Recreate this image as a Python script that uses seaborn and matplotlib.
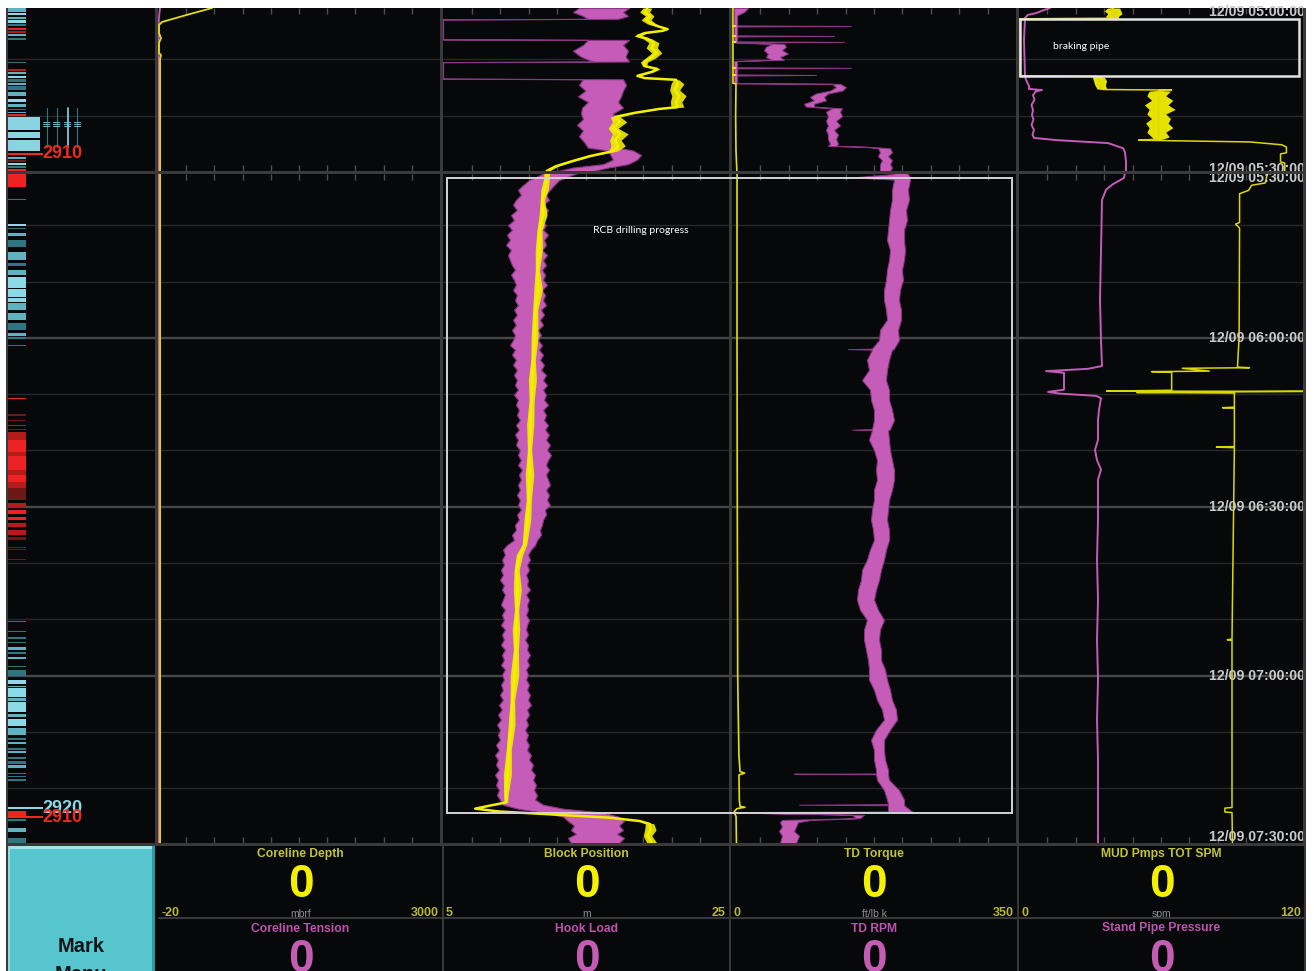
import datetime as dt
import numpy as np
import matplotlib
matplotlib.use("Agg")
import matplotlib.pyplot as plt
import matplotlib.transforms as mtransforms
from matplotlib.patches import Rectangle
from matplotlib.ticker import MultipleLocator
import seaborn as sns

# ------------------------------------------------------------------
# Rig-floor drilling log, 12/09 05:00 - 07:30
# time values are minutes after 05:00
# ------------------------------------------------------------------
BASE_TIME = dt.datetime(2017, 12, 9, 5, 0, 0)
LABEL_MINUTES = [0, 30, 60, 90, 120, 150]

# gauge panel
top_titles = ["Coreline Depth", "Block Position", "TD Torque", "MUD Pmps TOT SPM"]
bottom_titles = ["Coreline Tension", "Hook Load", "TD RPM", "Stand Pipe Pressure"]
range_min = [-20, 5, 0, 0]
range_max = [3000, 25, 350, 120]
units = ["mbrf", "m", "ft/lb k", "spm"]
top_values = [0, 0, 0, 0]
bottom_values = [0, 0, 0, 0]
# full-scale of the second (magenta) curve in each track
mag_max = [2820, 572, 142, 2840]

# Coreline depth (mbrf) and coreline tension (lb)
cd_t = [1.0, 2.2, 3.45, 4.0, 5.4, 6.3, 7.1, 8.9, 9.25, 10.0, 149.7]
cd_m = [558, 291, 23, -9, -9, 12, -9, -9, 12, 2, 2]
ct_t = [1.0, 3.0, 149.7]
ct_lb = [20, 8, 8]

# Block position (m): trace and half-width of its noise
block_t = [1.0, 1.7, 2.4, 3.1, 3.8, 4.3, 4.7, 5.0, 5.4, 5.9,
           6.4, 7.1, 8.0, 8.9, 9.8, 10.5, 11.2, 11.7, 12.2, 12.9,
           13.3, 13.6, 14.3, 15.4, 16.4, 17.5, 18.4, 18.7, 19.4, 20.1,
           21.0, 22.1, 23.1, 24.2, 25.2, 26.1, 27.0, 27.9, 28.8, 29.6,
           31.6, 33.7, 35.5, 38.2, 40.8, 44.4, 47.9, 51.5, 55.0, 60.0,
           63.9, 67.5, 71.0, 75.4, 79.9, 84.3, 88.8, 92.3, 96.7, 98.5,
           101.2, 104.7, 108.3, 111.8, 115.4, 120.0, 124.3, 128.7, 133.1, 137.6,
           141.1, 142.5, 143.1, 143.6, 144.1, 144.7, 145.2, 145.8, 146.3, 147.4,
           148.4, 149.7]
block_m = [19.3, 19.1, 19.45, 19.2, 19.6, 20.15, 20.7, 20.35, 19.1, 18.6,
           19.3, 19.75, 19.6, 19.95, 19.5, 19.05, 19.1, 20.0, 19.6, 18.6,
           19.1, 21.3, 21.4, 21.2, 21.5, 21.3, 21.4, 20.15, 18.4, 17.05,
           17.35, 16.9, 17.4, 17.05, 17.25, 16.9, 15.25, 14.0, 12.85, 12.25,
           12.25, 12.1, 11.95, 12.0, 11.75, 11.7, 11.6, 11.65, 11.45, 11.4,
           11.3, 11.25, 11.2, 11.1, 11.05, 11.05, 11.0, 10.9, 10.7, 10.35,
           10.15, 10.2, 10.15, 10.1, 10.1, 10.0, 9.85, 9.8, 9.6, 9.5,
           9.4, 9.4, 8.2, 7.25, 8.9, 13.1, 16.65, 18.75, 19.45, 19.5,
           19.3, 19.6]
block_noise = [0.3, 0.35, 0.3, 0.35, 0.3, 0.15, 0.1, 0.1, 0.15, 0.25,
               0.3, 0.35, 0.4, 0.35, 0.35, 0.25, 0.15, 0.2, 0.15, 0.15,
               0.1, 0.2, 0.45, 0.35, 0.5, 0.4, 0.45, 0.1, 0.1, 0.35,
               0.5, 0.35, 0.55, 0.4, 0.5, 0.3, 0.15, 0.15, 0.15, 0.2,
               0.2, 0.26, 0.15, 0.28, 0.18, 0.25, 0.15, 0.3, 0.18, 0.24,
               0.16, 0.28, 0.18, 0.25, 0.15, 0.3, 0.18, 0.24, 0.16, 0.22,
               0.18, 0.28, 0.15, 0.26, 0.18, 0.3, 0.16, 0.24, 0.18, 0.28,
               0.16, 0.12, 0.05, 0.05, 0.05, 0.05, 0.05, 0.1, 0.3, 0.4,
               0.3, 0.35]

# Hook load (klb): low / high envelope of the signal
hook_t = [1.0, 1.7, 2.4, 2.9, 3.0, 6.5, 6.6, 7.5, 8.5, 9.5,
          10.4, 10.5, 13.4, 13.5, 14.5, 15.5, 16.5, 17.5, 18.5, 19.5,
          20.5, 21.5, 22.5, 23.5, 24.5, 25.5, 26.0, 26.8, 27.6, 28.4,
          29.0, 29.6,
          32.0, 32.9, 33.7, 34.6, 35.5, 36.4, 37.3, 38.2, 39.1, 40.0,
          40.8, 41.7, 42.6, 43.5, 44.4, 45.3, 46.2, 47.1, 47.9, 48.8,
          49.7, 50.6, 51.5, 52.4, 53.3, 54.2, 55.0, 55.9, 56.8, 57.7,
          58.6, 59.5, 60.4, 61.3, 62.1, 63.0, 63.9, 64.8, 65.7, 66.6,
          67.5, 68.4, 69.2, 70.1, 71.0, 71.9, 72.8, 73.7, 74.6, 75.5,
          76.3, 77.2, 78.1, 79.0, 79.9, 80.8, 81.7, 82.6, 83.4, 84.3,
          85.2, 86.1, 87.0, 87.9, 88.8, 89.7, 90.5, 91.4, 92.3, 93.2,
          94.1, 95.0, 95.9, 96.8, 97.6, 98.5, 99.4, 100.3, 101.2, 102.1,
          103.0, 103.9, 104.7, 105.6, 106.5, 107.4, 108.3, 109.2, 110.1, 111.0,
          111.8, 112.7, 113.6, 114.5, 115.4, 116.3, 117.2, 118.1, 118.9, 119.8,
          120.7, 121.6, 122.5, 123.4, 124.3, 125.2, 126.0, 126.9, 127.8, 128.7,
          129.6, 130.5, 131.4, 132.3, 133.2, 134.1, 134.9, 135.8, 136.7, 137.6,
          138.5, 139.4, 140.3, 141.2, 142.0, 142.9, 143.6, 144.3, 145.0, 145.8,
          146.6, 147.4, 148.1, 148.8, 149.7]
hook_lo = [272, 260, 280, 290, 0, 0, 290, 280, 260, 275,
           300, 0, 0, 280, 272, 285, 270, 290, 278, 276,
           280, 268, 280, 272, 282, 290, 330, 335, 340, 320,
           260, 230,
           172, 160, 150, 156, 146, 140, 148, 136, 142, 130,
           138, 128, 134, 126, 136, 130, 134, 138, 144, 136,
           142, 146, 140, 148, 144, 150, 142, 148, 140, 146,
           138, 144, 140, 134, 144, 138, 146, 140, 148, 142,
           148, 144, 150, 142, 150, 146, 152, 148, 154, 146,
           152, 144, 150, 146, 154, 150, 156, 150, 158, 152,
           156, 150, 154, 148, 154, 150, 156, 148, 152, 144,
           146, 138, 142, 128, 120, 124, 118, 122, 116, 120,
           114, 122, 118, 124, 120, 116, 124, 118, 122, 116,
           124, 118, 122, 116, 124, 118, 122, 116, 124, 118,
           122, 116, 120, 114, 120, 112, 118, 110, 116, 108,
           114, 110, 114, 106, 112, 104, 110, 106, 112, 104,
           110, 106, 112, 108, 114, 120, 150, 200, 240, 250,
           262, 256, 266, 250, 256]
hook_hi = [372, 360, 370, 350, 0, 0, 372, 360, 370, 365,
           372, 0, 0, 360, 366, 360, 356, 350, 360, 340,
           346, 340, 352, 338, 344, 350, 380, 396, 388, 370,
           330, 300,
           232, 222, 214, 206, 212, 200, 210, 204, 196, 206,
           200, 210, 202, 206, 198, 208, 200, 206, 198, 204,
           200, 208, 198, 204, 200, 206, 196, 202, 194, 200,
           190, 196, 190, 198, 192, 200, 194, 202, 196, 206,
           200, 208, 200, 206, 202, 210, 200, 206, 202, 210,
           204, 212, 206, 214, 208, 216, 210, 206, 212, 206,
           210, 214, 206, 212, 208, 214, 204, 206, 200, 198,
           194, 196, 188, 184, 176, 170, 174, 168, 172, 166,
           170, 168, 174, 166, 172, 168, 170, 166, 172, 168,
           166, 170, 164, 170, 168, 174, 168, 172, 166, 170,
           166, 172, 168, 174, 170, 176, 168, 172, 166, 170,
           164, 170, 166, 172, 168, 176, 172, 180, 176, 184,
           180, 186, 182, 188, 184, 200, 240, 320, 350, 362,
           352, 360, 348, 362, 352]

# Top-drive torque (ft/lb k)
torque_t = [1.0, 4.1, 4.15, 4.2, 5.85, 5.9, 5.95, 6.9, 6.95, 7.0,
            11.45, 11.5, 11.55, 12.7, 12.75, 12.8, 14.2, 14.3, 20.0, 26.0,
            29.6, 31.0, 60.0, 90.0, 120.0, 134.0, 137.0, 137.3, 137.6, 142.0,
            143.2, 143.35, 143.6, 144.2, 145.0, 149.7]
torque_k = [1.2, 1.2, 4.5, 1.2, 1.2, 4.5, 1.2, 1.2, 4.5, 1.2,
            1.2, 4.5, 1.2, 1.2, 4.5, 1.2, 1.2, 4.9, 4.5, 4.9,
            6.0, 6.2, 6.2, 6.5, 7.0, 8.5, 9.9, 15.5, 8.6, 9.0,
            9.9, 16, 6, 2.5, 5, 5.5]

# Top-drive RPM: low / high envelope
rpm_t = [1.0, 1.7, 2.3, 4.05, 4.15, 4.25, 5.8, 5.9, 6.0, 6.85,
         6.95, 7.05, 7.3, 7.8, 8.4, 9.0, 9.6, 10.1, 10.3, 11.4,
         11.5, 11.6, 12.65, 12.75, 12.85, 14.2, 14.3, 14.9, 15.5, 16.0,
         16.6, 17.2, 17.8, 18.3, 18.6, 19.2, 20.0, 20.8, 21.6, 22.4,
         23.2, 24.0, 24.8, 25.2, 25.35, 25.6, 26.3, 27.0, 27.7, 28.4,
         29.0, 29.6,
         30.9, 31.5, 31.9, 33.7, 35.5, 37.3, 39.1, 40.8, 42.6, 44.4,
         46.2, 47.9, 49.7, 51.5, 53.3, 55.0, 56.8, 58.6, 60.4, 61.9,
         62.0, 62.1, 63.9, 65.7, 67.5, 69.2, 71.0, 72.8, 74.6, 76.2,
         76.3, 76.4, 78.1, 79.9, 81.7, 83.4, 85.2, 87.0, 88.8, 90.5,
         92.3, 94.1, 95.9, 97.6, 99.4, 101.2, 103.0, 104.7, 106.5, 108.3,
         110.1, 111.8, 113.6, 115.4, 117.2, 118.9, 120.7, 122.5, 124.3, 126.0,
         127.8, 129.6, 131.4, 133.2, 134.9, 136.7, 137.35, 137.4, 137.5, 138.5,
         140.3, 142.0, 142.8, 142.9, 143.0, 144.1, 144.2, 144.3, 144.7, 145.3,
         145.6, 146.0, 146.8, 147.6, 148.4, 149.7]
rpm_lo = [1, 1, 1, 1, 1, 1, 1, 1, 1, 1,
          1, 1, 20, 17, 16, 18, 17, 20, 1, 1,
          1, 1, 1, 1, 1, 1, 50, 52, 49, 42,
          39, 41, 36, 37, 50, 47, 48, 47, 48, 47,
          48, 48, 49, 48, 66, 73, 74, 73, 75, 74,
          74, 74,
          81, 60, 81, 80, 80, 79, 78.5, 78, 77.5, 79,
          78.5, 77.5, 77, 76, 76, 77, 77.5, 74, 73.5, 70,
          58, 70, 67.5, 68.5, 65, 69, 69.5, 71, 71, 70,
          60, 70, 68.5, 71, 72.5, 72, 72.5, 71, 71, 70,
          69.5, 70.5, 71, 69, 67.5, 65, 64.5, 63, 62.5, 64,
          67.5, 66, 66, 67, 68, 68.5, 68.5, 71, 72.5, 75,
          76, 72, 69.5, 71, 71, 72, 72, 31, 72, 72.5,
          76, 77.5, 78, 33.5, 78, 78, 1, 1, 60, 62,
          25, 24, 25, 23.5, 25, 24]
rpm_hi = [8, 6, 2.5, 2.5, 59.5, 2.5, 2.5, 51, 2.5, 2.5,
          56, 2.5, 26, 27, 25, 28, 24, 26, 2.5, 2.5,
          59.5, 2.5, 2.5, 42, 2.5, 2.5, 54, 57, 55, 48,
          46, 47, 41, 41, 55, 54, 55, 52, 54, 51,
          53, 52, 53, 52, 68, 79, 80, 78, 80, 79,
          80, 79,
          88, 89, 89, 88, 88.5, 87, 87.5, 86, 86, 86.5,
          86, 85, 85.5, 84, 83.5, 84.5, 84.5, 83, 83.5, 81,
          81, 80, 78.5, 77.5, 77, 78.5, 78.5, 80, 81, 79,
          79, 78, 78.5, 79, 80, 81, 81, 80, 78.5, 78,
          77.5, 78.5, 78.5, 77, 76, 74.5, 73.5, 72, 71, 73,
          76, 74, 73.5, 74.5, 74.5, 76.5, 77.5, 79, 80, 82,
          82.5, 79, 76, 76, 76.5, 78, 78, 78, 78, 78.5,
          83.5, 86, 86, 86, 86, 90, 91, 3, 66, 64,
          40, 33, 32, 31, 33.5, 32]

# Mud pumps total SPM
spm_t = [1.0, 1.4, 1.8, 2.2, 2.6, 2.8, 2.85, 2.9, 12.9, 13.0,
         13.6, 14.2, 14.7, 15.3, 15.4, 15.5, 24.0, 24.2, 24.5, 25.0,
         25.4, 26.4, 26.6, 28.0, 28.2, 29.6, 30.9, 32.5, 32.9, 33.8,
         34.4, 39.5, 39.8, 40.5, 60.0, 65.2, 65.3, 65.4, 65.9, 66.0,
         66.1, 69.3, 69.45, 69.5, 69.7, 69.8, 72.3, 72.4, 72.5, 79.3,
         79.4, 79.5, 113.5, 113.6, 113.7, 143.4, 143.5, 144.2, 144.3, 149.7]
spm = [40, 38, 42, 39, 41, 40, 17, 0, 0, 33,
       33.5, 35, 34, 35.5, 64.5, 59, 59, 50.5, 97.5, 111,
       113, 113, 110.5, 110.5, 112.3, 112.3, 105, 104, 98.3, 97,
       93.2, 93.2, 91.5, 93.2, 93, 92.3, 97.4, 69, 80.4, 56,
       64.5, 64.5, 37, 120, 49.8, 91, 91, 86, 91, 91,
       83.4, 91, 90, 88, 90, 90, 87, 87, 90, 90.2]
# SPM noise envelope while pumping
spmb_t = [1.0, 1.5, 2.0, 2.5, 2.8, 2.85, 12.95, 13.1, 13.8, 14.5,
          15.2, 15.3, 15.45, 15.6, 16.4, 17.2, 18.0, 18.8, 19.6, 20.4,
          21.2, 22.0, 22.8, 23.6, 24.0, 24.1]
spmb_lo = [37.5, 36, 37.5, 36.5, 38, 40, 33, 31, 31.5, 32,
           33, 35, 59, 55, 54, 56, 53, 55, 54, 56,
           53.5, 55, 54, 56, 57, 59]
spmb_hi = [42.5, 43, 43.5, 42, 42, 40, 33, 36, 37, 36.5,
           37, 35, 59, 64, 62, 65, 63, 66, 62, 64,
           63, 65, 62, 63.5, 61, 59]

# Stand pipe pressure (psi)
spp_t = [1.0, 1.35, 1.9, 2.2, 2.75, 6.6, 12.9, 13.6, 14.7, 15.2,
         15.4, 15.6, 16.3, 17.1, 18.0, 18.9, 19.8, 20.6, 21.5, 22.4,
         23.2, 23.8, 24.2, 24.7, 25.6, 26.3, 28.0, 29.6, 31.6, 32.7,
         33.7, 35.5, 44.4, 53.3, 60.4, 65.0, 65.5, 65.9, 66.2, 69.2,
         69.6, 69.9, 70.3, 70.7, 72.8, 74.6, 78.1, 79.9, 81.7, 83.4,
         85.2, 92.3, 99.4, 106.5, 113.6, 120.7, 127.8, 134.9, 142.0, 149.7]
spp_psi = [310, 250, 170, 90, 60, 50, 60, 70, 100, 100,
           230, 170, 140, 155, 125, 140, 130, 145, 125, 150,
           135, 150, 390, 890, 1040, 1060, 1070, 1070, 1050, 940,
           870, 830, 820, 810, 820, 830, 690, 270, 450, 450,
           290, 410, 770, 820, 800, 790, 790, 760, 780, 820,
           790, 790, 780, 790, 780, 790, 780, 790, 790, 790]

# Depth strip: marks (start, end, colour class)
strip_t0 = [1.0, 1.9, 2.6, 3.1, 3.8, 4.5, 5.05, 5.55, 6.25, 10.4,
            11.7, 12.2, 12.9, 13.45, 14.15, 14.7, 15.75, 17.0, 17.85, 18.7,
            19.25, 19.6, 27.1, 27.65, 28.2, 28.7, 29.25,
            30.9, 35.3, 39.8, 40.5, 41.4, 42.6, 44.75, 46.7, 47.95, 49.2,
            51.35, 52.9, 53.8, 55.6, 57.35, 59.1, 59.9, 61.2,
            70.6, 73.6, 74.5, 75.4, 76.1, 76.7, 78.1, 80.2, 80.9, 83.4, 84.3, 85.6, 86.6,
            89.3, 90.55, 91.8, 92.85, 94.1, 95.3, 97.1, 97.45, 99.2,
            110.2, 112.0, 113.2, 113.95, 114.95, 115.85, 116.6, 118.2, 119.0,
            120.7, 121.8, 122.2, 124.0, 124.75, 126.85, 127.6, 129.35,
            131.1, 131.85, 132.9, 133.45, 134.45, 135.2, 135.9, 137.2, 137.75, 138.4,
            144.0, 145.5, 146.95, 148.9]
strip_t1 = [1.7, 2.2, 2.9, 3.6, 4.15, 4.85, 5.4, 5.9, 6.6, 10.6,
            12.0, 12.6, 13.3, 14.0, 14.5, 15.4, 16.4, 17.5, 18.35, 18.9,
            19.4, 19.9, 27.5, 28.0, 28.55, 29.05, 29.6,
            33.2, 35.6, 40.1, 40.7, 41.9, 43.8, 46.2, 47.2, 48.85, 51.1,
            52.7, 53.6, 55.0, 56.8, 58.6, 59.65, 60.15, 61.45,
            70.85, 73.85, 74.75, 75.65, 76.3, 78.1, 80.2, 80.9, 83.4, 84.3, 85.6, 86.6, 88.8,
            90.0, 91.25, 92.3, 93.55, 95.0, 95.9, 97.4, 97.7, 99.5,
            110.45, 112.2, 113.45, 114.2, 115.4, 116.1, 117.0, 118.45, 120.1,
            121.5, 122.0, 123.7, 124.4, 126.5, 127.25, 129.0, 130.6,
            131.35, 132.2, 133.15, 133.8, 134.7, 135.7, 136.3, 137.45, 137.95, 138.65,
            144.9, 145.75, 147.7, 149.7]
strip_kind = ["C2", "C3", "C2", "C3", "C1", "R3", "R2", "C2", "C1", "C1",
              "R2", "C2", "C3", "C1", "C2", "C1", "C2", "C3", "C2", "C1",
              "C2", "R3", "C2", "R1", "C3", "C1", "R3",
              "R3", "C1", "C3", "C1", "C2", "C1", "C2", "C1", "C2", "C3",
              "C3", "C3", "C2", "C2", "C1", "C2", "C1", "C1",
              "R3", "R1", "R1", "R2", "R1", "R2", "R3", "R2", "R3", "R2", "R3", "R2", "R1",
              "R2", "R3", "R3", "R2", "R2", "R1", "R1", "R1", "R1",
              "C1", "C1", "C1", "C1", "C2", "C1", "C2", "C1", "C1",
              "C3", "C2", "C3", "C2", "C3", "C2", "C3", "C2",
              "C1", "C2", "C1", "C2", "C1", "C1", "C2", "C1", "C1", "C1",
              "R3", "C1", "C2", "C1"]
# recovered core interval (wide block)
core_t0 = [20.1, 22.75, 24.15]
core_t1 = [22.4, 23.85, 26.1]
# bit-depth markers
marker_t = [26.6, 143.5, 145.1]
marker_depth = [2910, 2920, 2910]
marker_kind = ["R", "C", "R"]

# annotations
RCB_T = (31.6, 144.3)
BRAKE_T = (2.93, 12.93)

# ------------------------------------------------------------------
W, H = 1314, 971
BG = "#060809"
SEP = "#3a3a3a"
TICK = "#4e4e4e"
GRID_MINOR = "#272929"
GRID_MAJOR = "#474747"
YEL = "#f2ef00"
MAG = "#c45cb8"
MAG_EDGE = "#8a3784"
COLORS = {"C3": "#8bd8e6", "C2": "#5fb3c0", "C1": "#2f7682",
          "R3": "#ee2222", "R2": "#b41c1c", "R1": "#6e1717"}
MARK_COL = {"R": "#ee2a22", "C": "#8bd8e6"}

TOP_WIN = (1.0, 29.6)
MAIN_WIN = (30.9, 149.7)
PANELS = [(TOP_WIN, 8, 171), (MAIN_WIN, 174, 843)]
STRIP_X = (8, 155)
TRACK_X = [(158, 440), (443, 729), (732, 1016), (1019, 1303)]
COLS = [158, 443, 730, 1018, 1305]

sns.set_theme(style="dark", rc={"axes.facecolor": BG, "axes.grid": False})
plt.rcParams["font.family"] = ["Liberation Sans", "DejaVu Sans"]

fig = plt.figure(figsize=(W / 100, H / 100), dpi=100)
fig.patch.set_facecolor("white")


def px_axes(x0, y0, x1, y1):
    ax = fig.add_axes([x0 / W, 1 - y1 / H, (x1 - x0) / W, (y1 - y0) / H])
    ax.set_facecolor(BG)
    for s in ax.spines.values():
        s.set_visible(False)
    return ax


def px_rect(x0, y0, x1, y1, color, z=6):
    fig.add_artist(Rectangle((x0 / W, 1 - y1 / H), (x1 - x0) / W, (y1 - y0) / H,
                             transform=fig.transFigure, facecolor=color,
                             edgecolor="none", zorder=z))


def px_text(x, y, s, **kw):
    kw.setdefault("ha", "center")
    kw.setdefault("va", "baseline")
    fig.text(x / W, 1 - y / H, s, **kw)


def time_grid(ax, win):
    ax.set_ylim(win[1], win[0])
    ax.yaxis.set_major_locator(MultipleLocator(30))
    ax.yaxis.set_minor_locator(MultipleLocator(10))
    ax.grid(False)
    ax.grid(which="major", axis="y", color=GRID_MAJOR, lw=1.7)
    ax.grid(which="minor", axis="y", color=GRID_MINOR, lw=1.0)
    ax.tick_params(axis="y", which="both", length=0, left=False, labelleft=False)
    ax.set_axisbelow(True)
    ax.set_xlabel("")
    ax.set_ylabel("")


def trace(ax, t, v, color, lw):
    sns.lineplot(x=np.asarray(v, float), y=np.asarray(t, float), ax=ax,
                 orient="y", sort=False, estimator=None, color=color,
                 linewidth=lw, legend=False)


# dark screen
px_rect(7, 8, 1306, 971, BG, z=-1)

axes_store = {}
for p, (win, y0, y1) in enumerate(PANELS):
    # depth strip
    axs = px_axes(STRIP_X[0], y0, STRIP_X[1], y1)
    t0 = np.array(strip_t0)
    t1 = np.array(strip_t1)
    axs.barh((t0 + t1) / 2, 0.125, height=t1 - t0, left=0,
             color=[COLORS[k] for k in strip_kind], linewidth=0)
    c0 = np.array(core_t0)
    c1 = np.array(core_t1)
    axs.barh((c0 + c1) / 2, 0.22, height=c1 - c0, left=0, color="#8ad4e2", linewidth=0)
    axs.barh(marker_t, 0.24, height=0.35, left=0,
             color=[MARK_COL[k] for k in marker_kind], linewidth=0)
    if p == 0:
        for k, xc in enumerate([0.265, 0.33, 0.405, 0.47]):
            axs.plot([xc, xc], [18.5, 25.4], color="#8bd8e6" if k == 2 else "#2f7682",
                     lw=1.2 if k == 2 else 0.8)
            axs.text(xc, 21.6, "\u2261", color="#6ec3d0", fontsize=8,
                     ha="center", va="center", family=["DejaVu Sans"])
    for tm, dep, kd in zip(marker_t, marker_depth, marker_kind):
        if win[0] <= tm <= win[1]:
            axs.text(0.235, tm, str(dep), color=MARK_COL[kd], fontsize=13,
                     fontweight="bold", ha="left", va="center")
    axs.set_xlim(0, 1)
    time_grid(axs, win)
    axs.tick_params(axis="x", length=0, labelbottom=False)

    for i, (x0, x1) in enumerate(TRACK_X):
        ax = px_axes(x0, y0, x1, y1)          # magenta curve scale
        axy = ax.twiny()                      # yellow curve scale
        for s in axy.spines.values():
            s.set_visible(False)
        if i == 0:
            trace(ax, ct_t, ct_lb, MAG, 1.3)
            trace(axy, cd_t, cd_m, "#e2de10", 1.3)
        elif i == 1:
            ax.fill_betweenx(hook_t, hook_lo, hook_hi, facecolor=MAG,
                             edgecolor=MAG_EDGE, lw=0.8)
            bm = np.array(block_m)
            bn = np.array(block_noise)
            axy.fill_betweenx(block_t, bm - bn, bm + bn, color=YEL, lw=0, alpha=0.9)
            trace(axy, block_t, block_m, YEL, 1.8)
        elif i == 2:
            ax.fill_betweenx(rpm_t, rpm_lo, rpm_hi, facecolor=MAG,
                             edgecolor=MAG_EDGE, lw=0.7)
            trace(axy, torque_t, torque_k, "#e4e010", 1.2)
        else:
            trace(ax, spp_t, spp_psi, MAG, 1.4)
            axy.fill_betweenx(spmb_t, spmb_lo, spmb_hi, color=YEL, lw=0, alpha=0.95)
            trace(axy, spm_t, spm, "#dcd800", 1.1)
        ax.set_xlim(0, mag_max[i])
        axy.set_xlim(range_min[i], range_max[i])
        time_grid(ax, win)
        axy.set_ylim(win[1], win[0])
        ax.set_xticks(np.linspace(0, mag_max[i], 11)[1:-1])
        ax.tick_params(axis="x", which="major", direction="in", length=4.5, width=1,
                       color=TICK, top=True, bottom=True,
                       labelbottom=False, labeltop=False)
        ax.tick_params(axis="x", which="minor", length=0)
        axy.set_xticks([])
        axy.tick_params(axis="both", which="both", length=0, top=False, bottom=False,
                        labeltop=False, labelbottom=False)
        axy.grid(False)
        axy.set_xlabel("")
        axy.set_ylabel("")
        axes_store[(p, i)] = (ax, axy)

# annotation boxes
ax_t4 = axes_store[(0, 3)][1]
tr_brake = mtransforms.blended_transform_factory(ax_t4.transAxes, ax_t4.transData)
ax_t4.add_patch(Rectangle((0.004, BRAKE_T[0]), 0.982, BRAKE_T[1] - BRAKE_T[0],
                          transform=tr_brake, fill=False, edgecolor="#e4e4e4",
                          lw=1.8, zorder=10, clip_on=False))
ax_t4.text(0.12, 7.8, "braking pipe", transform=tr_brake, color="white", fontsize=7.5,
           family=["Lato", "DejaVu Sans"], ha="left", va="center", zorder=11)

ax_m2 = axes_store[(1, 1)][0]
tr_rcb = mtransforms.blended_transform_factory(fig.transFigure, ax_m2.transData)
fig.add_artist(Rectangle((447 / W, RCB_T[0]), (1012 - 447) / W, RCB_T[1] - RCB_T[0],
                         transform=tr_rcb, fill=False, edgecolor="#d4d4d4", lw=1.4, zorder=8))
fig.text(593 / W, 41.0, "RCB drilling progress", transform=tr_rcb, color="white",
         fontsize=7.5, family=["Lato", "DejaVu Sans"], ha="left", va="center", zorder=8)

# time stamps along the right edge
for m in LABEL_MINUTES:
    label = (BASE_TIME + dt.timedelta(minutes=m)).strftime("%m/%d %H:%M:%S")
    for p, (win, y0, y1) in enumerate(PANELS):
        if win[0] - 1.5 <= m <= win[1] + 1.5:
            lower_pad = 0.3 if p == 0 else 1.0
            yv = min(max(m, win[0] + 0.65), win[1] - lower_pad)
            tr = mtransforms.blended_transform_factory(fig.transFigure,
                                                       axes_store[(p, 3)][0].transData)
            fig.text(1305 / W, yv, label, transform=tr, color="#c8c8c8", fontsize=10.2,
                     fontweight="bold", ha="right", va="center", zorder=5)

# frame separators
for x0, x1 in [(155, 158), (440, 443), (729, 732), (1016, 1019), (1303, 1306)]:
    px_rect(x0, 8, x1, 843, SEP)
px_rect(7, 171, 1306, 174, SEP)
px_rect(7, 843, 1306, 846, SEP)
px_rect(6, 8, 8, 971, SEP)

# gauge panel (text placed on baselines)
for x in COLS[1:4]:
    px_rect(x - 1, 846, x + 1, 971, "#383838")
px_rect(158, 917, 1306, 919, "#383838")
px_rect(1304, 846, 1306, 971, "#383838")
for c in range(4):
    xl, xr = COLS[c], COLS[c + 1]
    xc = (xl + xr) / 2
    px_text(xc, 856.5, top_titles[c], color="#c4c437", fontsize=8.7, fontweight="bold")
    px_text(xc, 897, f"{top_values[c]:g}", color="#f4f000", fontsize=33, fontweight="bold")
    px_text(xl + 3, 915.5, f"{range_min[c]:g}", color="#b6b63c", fontsize=9,
            fontweight="bold", ha="left")
    px_text(xr - 4, 915.5, f"{range_max[c]:g}", color="#b6b63c", fontsize=9,
            fontweight="bold", ha="right")
    px_text(xc, 916.5, units[c], color="#8c8c8c", fontsize=7.5)
    px_text(xc, 931.5, bottom_titles[c], color="#c052b0", fontsize=8.7, fontweight="bold")
    px_text(xc, 972, f"{bottom_values[c]:g}", color="#c35cb3", fontsize=33, fontweight="bold")

# Mark Menu button
px_rect(8, 846, 155, 971, "#56c5ce", z=6)
px_rect(8, 846, 155, 849, "#a2e4ea", z=7)
px_rect(8, 846, 10, 971, "#8fdce4", z=7)
px_rect(152, 846, 155, 971, "#2f9aa3", z=7)
px_text(81, 952, "Mark", color="#0b1517", fontsize=14.5, fontweight="bold", zorder=8)
px_text(81, 980, "Menu", color="#0b1517", fontsize=14.5, fontweight="bold", zorder=8)

fig.savefig("out.png", dpi=100, facecolor="white")
